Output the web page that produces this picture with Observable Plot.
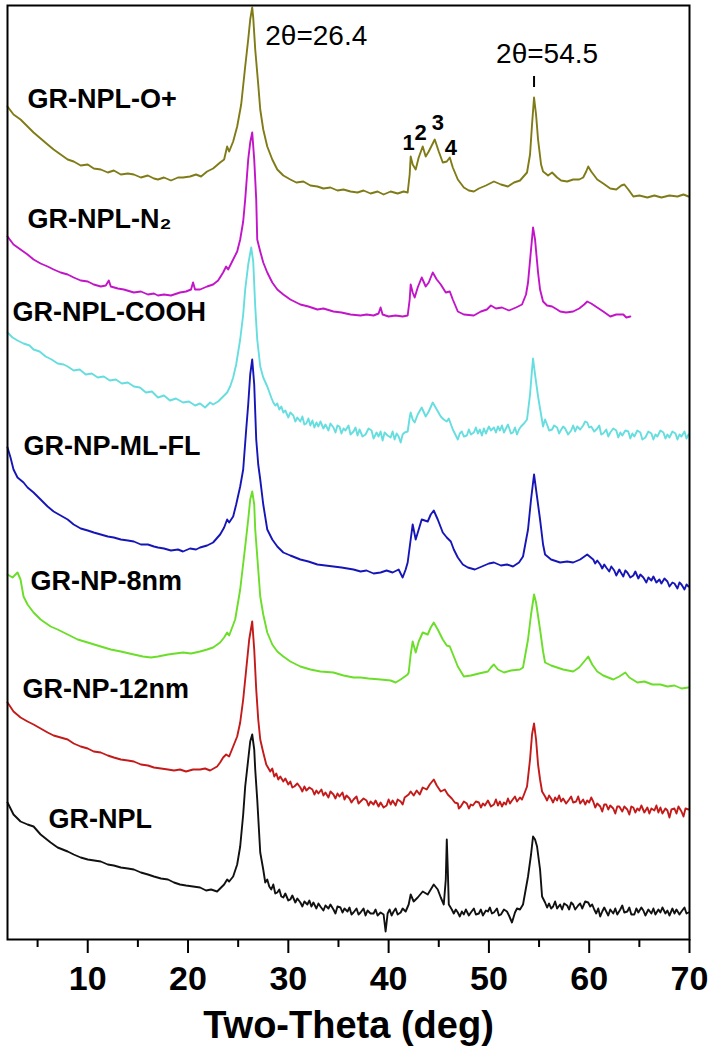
<!DOCTYPE html>
<html><head><meta charset="utf-8">
<script src="https://cdn.jsdelivr.net/npm/d3@7"></script>
<script src="https://cdn.jsdelivr.net/npm/@observablehq/plot@0.6"></script>
<style>
body{margin:0;background:#fff;}
#chart svg{font-family:"Liberation Sans",Arial,sans-serif;background:#fff;}
</style></head><body><div id="chart"></div>
<script>
// Samples, top to bottom
const samples = ["GR-NPL-O+","GR-NPL-N\u2082","GR-NPL-COOH","GR-NP-ML-FL","GR-NP-8nm","GR-NP-12nm","GR-NPL"];
const colors  = ["#7f7b16","#c214c8","#66dedf","#1616b8","#6ade28","#c41a1a","#111111"];

// [two-theta (deg), stacked intensity (a.u.)]
const sOplus = [[2.0,833],[2.6,825],[3.3,820],[4.0,813],[4.6,807],[5.3,801],[6.0,795],[6.6,790],[7.3,785],[8.0,780],[8.6,778],[9.3,774],[10.0,775],[10.6,771],[11.3,770],[12.0,767],[12.6,769],[13.3,765],[14.0,766],[14.6,765],[15.3,762],[16.0,764],[16.6,761],[17.0,760],[17.6,762],[18.3,759],[19.0,762],[19.5,762],[20.2,763],[20.8,765],[21.3,763],[21.9,768],[22.5,771],[23.2,777],[23.6,780],[23.9,793],[24.1,788],[24.5,798],[24.9,813],[25.3,835],[25.7,873],[26.0,900],[26.2,920],[26.4,932],[26.5,922],[26.7,890],[27.0,855],[27.2,830],[27.5,810],[27.9,793],[28.4,780],[28.9,770],[29.5,764],[30.2,760],[30.8,757],[31.5,758],[32.2,754],[32.9,753],[33.5,751],[34.2,752],[34.9,749],[35.5,750],[36.2,748],[36.9,747],[37.5,749],[38.2,746],[38.9,748],[39.5,745],[40.2,748],[40.9,746],[41.5,748],[41.9,747],[42.1,765],[42.2,783],[42.4,775],[42.7,770],[43.0,782],[43.4,793],[43.7,783],[44.0,788],[44.6,800],[45.0,788],[45.4,777],[45.8,778],[46.1,782],[46.4,772],[46.9,760],[47.5,752],[48.0,749],[48.5,748],[49.0,751],[49.7,754],[50.5,758],[51.2,755],[51.9,753],[52.5,757],[53.1,759],[53.8,767],[54.1,785],[54.3,815],[54.5,842],[54.7,825],[54.9,800],[55.2,775],[55.4,768],[55.9,764],[56.3,767],[56.8,762],[57.2,759],[57.8,758],[58.4,760],[59.0,760],[59.4,762],[59.7,768],[59.9,773],[60.2,768],[60.8,760],[61.4,756],[62.1,751],[62.7,750],[63.2,754],[63.5,755],[63.9,750],[64.4,743],[65.0,744],[65.8,742],[66.5,744],[67.2,742],[68.0,744],[68.8,743],[69.4,745],[69.9,743]];
const sN2 = [[2.0,703],[2.6,695],[3.3,690],[4.0,685],[4.6,680],[5.3,676],[6.0,673],[6.6,670],[7.3,667],[8.0,665],[8.6,662],[9.3,659],[10.0,658],[10.6,655],[11.3,653],[11.8,654],[12.1,659],[12.3,653],[13.0,651],[13.6,650],[14.6,647],[15.3,648],[16.0,645],[16.6,646],[17.0,644],[17.6,645],[18.3,644],[19.2,647],[19.8,648],[20.3,650],[20.5,657],[20.7,650],[21.2,650],[21.9,653],[22.5,655],[23.0,659],[23.5,667],[23.8,673],[24.0,670],[24.5,680],[24.9,688],[25.2,700],[25.5,718],[25.7,740],[26.0,780],[26.2,797],[26.4,807],[26.6,780],[26.8,740],[26.9,700],[27.2,688],[27.5,677],[27.9,667],[28.4,657],[28.9,650],[29.5,645],[30.2,640],[31.2,635],[32.0,633],[32.9,630],[33.5,631],[34.5,628],[35.3,627],[36.2,625],[37.2,624],[37.8,625],[38.5,624],[39.0,626],[39.2,632],[39.4,625],[40.0,623],[40.7,624],[41.4,623],[41.9,624],[42.1,640],[42.2,655],[42.4,647],[42.6,642],[42.9,652],[43.3,662],[43.7,653],[44.0,657],[44.4,667],[44.8,660],[45.2,655],[45.7,647],[46.1,648],[46.4,640],[46.9,628],[47.5,625],[48.5,624],[49.2,628],[49.8,630],[50.2,634],[50.7,631],[51.3,632],[52.0,629],[52.7,632],[53.3,635],[53.7,645],[53.9,657],[54.2,690],[54.4,712],[54.6,700],[54.9,667],[55.1,650],[55.4,638],[55.8,634],[56.3,633],[56.8,630],[57.1,628],[57.7,627],[58.4,628],[59.0,631],[59.5,635],[59.8,638],[60.2,636],[60.8,632],[61.4,628],[62.1,623],[62.7,625],[63.4,625],[63.7,622],[64.1,623]];
const sCOOH = [[2.0,607],[2.5,602],[3.0,599],[3.6,596],[4.2,594],[4.6,590],[5.2,588],[5.8,583],[6.4,580],[7.0,576],[7.6,575],[8.0,573],[8.6,569],[9.2,570],[9.8,565],[10.4,566],[11.0,562],[11.6,563],[12.2,559],[12.8,560],[13.4,556],[14.0,557],[14.6,553],[15.2,552],[15.8,547],[16.4,548],[17.0,542],[17.6,544],[18.2,539],[18.8,541],[19.5,537],[20.1,538],[20.7,534],[21.2,536],[21.7,532],[22.2,537],[22.5,535],[23.0,538],[23.5,543],[23.9,547],[24.2,553],[24.5,562],[24.8,575],[25.2,600],[25.5,625],[25.7,650],[26.0,675],[26.3,692],[26.5,678],[26.7,633],[26.9,600],[27.2,573],[27.5,562],[27.9,553],[28.3,542],[28.5,537],[28.7,534],[28.9,536],[29.1,530],[29.3,533],[29.5,527],[29.7,529],[30.0,522],[30.2,527],[30.5,524],[30.7,518],[30.9,522],[31.2,518],[31.4,523],[31.6,515],[31.8,516],[32.0,521],[32.2,514],[32.4,519],[32.6,512],[32.8,517],[33.0,513],[33.2,518],[33.5,511],[33.7,515],[34.0,509],[34.2,516],[34.5,512],[34.7,507],[34.9,514],[35.1,513],[35.3,506],[35.5,511],[35.7,509],[36.0,514],[36.2,505],[36.5,508],[36.7,512],[36.9,504],[37.1,510],[37.4,503],[37.7,505],[38.0,511],[38.3,509],[38.5,501],[38.8,507],[39.0,503],[39.2,508],[39.4,499],[39.6,507],[39.9,504],[40.2,502],[40.4,508],[40.6,500],[40.8,506],[41.0,503],[41.2,497],[41.4,505],[41.6,507],[41.9,508],[42.1,522],[42.2,527],[42.4,520],[42.6,517],[42.9,525],[43.3,532],[43.7,523],[44.0,528],[44.4,537],[44.8,530],[45.2,523],[45.5,520],[45.8,518],[46.0,521],[46.4,510],[46.9,500],[47.1,506],[47.3,508],[47.5,503],[47.8,504],[48.0,510],[48.2,505],[48.5,507],[48.7,512],[48.9,506],[49.1,510],[49.3,504],[49.5,511],[49.7,506],[50.0,513],[50.2,509],[50.5,512],[50.7,507],[50.9,513],[51.1,509],[51.3,514],[51.5,507],[51.7,511],[51.9,515],[52.2,506],[52.4,507],[52.6,512],[52.8,505],[53.0,510],[53.2,513],[53.5,516],[53.8,520],[54.1,545],[54.3,570],[54.4,581],[54.6,565],[54.9,543],[55.2,525],[55.4,513],[55.6,520],[55.8,515],[56.0,509],[56.3,510],[56.5,514],[56.8,512],[57.0,506],[57.1,508],[57.4,513],[57.6,511],[57.9,505],[58.2,509],[58.4,514],[58.6,508],[58.8,513],[59.1,510],[59.4,514],[59.6,518],[59.8,517],[60.0,512],[60.2,513],[60.5,508],[60.8,511],[61.0,514],[61.2,505],[61.4,506],[61.7,510],[61.9,503],[62.1,507],[62.4,511],[62.7,509],[62.9,502],[63.1,507],[63.3,504],[63.6,509],[63.9,508],[64.1,501],[64.3,506],[64.5,503],[64.8,509],[65.1,507],[65.3,500],[65.6,502],[65.9,508],[66.2,506],[66.4,500],[66.6,505],[66.8,503],[67.1,509],[67.4,507],[67.6,501],[67.8,505],[68.0,502],[68.3,508],[68.6,506],[68.8,500],[69.0,505],[69.2,503],[69.5,508],[69.7,501],[69.9,505]];
const sMLFL = [[2.0,492],[2.3,482],[2.6,470],[3.0,462],[3.6,457],[4.0,452],[4.6,447],[5.3,440],[6.0,433],[6.6,428],[7.3,424],[8.0,420],[8.6,415],[9.3,411],[10.0,409],[10.6,407],[11.3,405],[12.0,403],[12.6,402],[13.3,400],[14.0,399],[14.6,398],[15.3,395],[16.0,395],[16.6,393],[17.0,392],[17.6,391],[18.3,389],[19.0,390],[19.5,388],[20.2,391],[20.8,390],[21.2,392],[21.9,394],[22.5,397],[23.2,405],[23.6,412],[23.9,420],[24.1,417],[24.5,423],[24.8,435],[25.2,453],[25.5,470],[25.8,510],[26.0,535],[26.2,565],[26.4,580],[26.6,555],[26.8,500],[27.0,475],[27.2,460],[27.5,435],[27.9,410],[28.4,400],[28.9,393],[29.5,387],[30.2,384],[31.2,380],[32.0,378],[32.9,375],[33.7,374],[34.5,373],[35.3,372],[36.5,370],[37.2,368],[37.8,369],[38.5,366],[39.2,367],[39.8,369],[40.4,367],[41.0,370],[41.4,362],[41.7,370],[41.9,377],[42.2,400],[42.4,415],[42.7,400],[43.0,410],[43.3,420],[43.9,418],[44.2,425],[44.5,429],[44.9,420],[45.4,407],[45.8,402],[46.2,398],[46.5,390],[46.9,382],[47.4,375],[47.9,372],[48.6,370],[49.3,373],[50.0,376],[50.5,377],[51.2,374],[51.8,375],[52.4,373],[53.0,377],[53.4,383],[53.9,410],[54.2,440],[54.5,465],[54.7,450],[55.1,420],[55.4,395],[55.6,385],[56.2,380],[57.1,377],[57.8,378],[58.4,377],[59.1,380],[59.8,385],[60.4,380],[60.6,376],[60.8,379],[61.1,375],[61.3,371],[61.5,375],[61.7,372],[62.0,368],[62.2,373],[62.5,369],[62.7,364],[63.0,370],[63.1,368],[63.4,363],[63.6,369],[63.8,367],[64.1,362],[64.4,364],[64.6,368],[64.9,361],[65.1,365],[65.4,362],[65.7,357],[65.9,362],[66.2,359],[66.4,363],[66.7,357],[67.0,360],[67.2,356],[67.5,361],[67.8,358],[68.0,353],[68.3,357],[68.5,356],[68.8,351],[69.0,357],[69.2,355],[69.5,350],[69.7,355],[69.9,353]];
const s8nm = [[2.0,365],[2.5,362],[3.0,367],[3.3,360],[3.6,343],[4.0,335],[4.6,327],[5.3,320],[6.3,313],[7.0,310],[8.0,305],[9.0,300],[10.0,297],[11.3,293],[12.3,290],[13.3,288],[14.6,285],[15.5,283],[16.3,282],[17.0,283],[18.0,285],[19.5,287],[20.3,286],[21.2,288],[21.9,290],[22.5,292],[23.2,297],[23.6,302],[23.9,307],[24.1,304],[24.7,320],[25.2,350],[25.7,393],[26.0,420],[26.2,440],[26.4,448],[26.6,435],[26.7,410],[27.0,370],[27.2,343],[27.5,325],[27.9,307],[28.4,295],[28.9,288],[29.5,283],[30.2,278],[31.2,273],[32.2,270],[33.2,268],[34.5,267],[35.5,264],[36.5,262],[37.2,262],[38.0,261],[39.2,260],[40.2,259],[40.7,257],[41.2,260],[41.9,265],[42.0,267],[42.2,285],[42.4,298],[42.7,287],[43.0,298],[43.4,307],[43.9,305],[44.2,312],[44.5,317],[44.9,310],[45.4,300],[45.8,294],[46.1,293],[46.5,283],[46.9,273],[47.5,263],[48.2,264],[49.0,266],[49.9,268],[50.2,272],[50.5,275],[50.9,270],[51.5,267],[52.2,269],[53.1,270],[53.4,272],[53.9,300],[54.2,325],[54.5,345],[54.7,337],[55.1,310],[55.4,288],[55.6,277],[56.2,274],[56.8,272],[57.4,270],[58.4,268],[59.0,272],[59.5,278],[59.9,283],[60.3,275],[60.8,268],[61.4,264],[62.4,260],[63.0,263],[63.6,267],[64.0,262],[64.8,257],[65.5,258],[66.3,255],[67.1,255],[67.8,253],[68.5,254],[69.2,251],[69.9,252]];
const s12nm = [[2.0,237],[2.6,228],[3.3,222],[4.0,218],[4.6,215],[5.3,211],[6.0,207],[6.6,204],[7.3,202],[8.0,200],[8.6,196],[9.3,193],[10.0,191],[10.6,188],[11.3,187],[12.0,184],[12.6,182],[13.3,180],[14.0,179],[14.6,178],[15.3,175],[16.0,174],[16.6,172],[17.3,171],[18.0,170],[18.6,169],[19.2,170],[19.8,168],[20.5,170],[21.2,170],[21.7,171],[22.2,169],[22.9,173],[23.2,177],[23.5,182],[23.8,185],[24.1,183],[24.5,193],[24.9,203],[25.2,217],[25.5,240],[25.8,270],[26.1,300],[26.4,318],[26.6,290],[26.8,250],[27.0,220],[27.2,200],[27.5,187],[27.8,175],[28.2,168],[28.4,171],[28.6,163],[28.8,166],[29.0,160],[29.2,163],[29.5,158],[29.7,161],[30.0,155],[30.2,158],[30.4,152],[30.6,153],[30.9,156],[31.2,152],[31.4,148],[31.6,153],[31.8,149],[32.1,152],[32.4,150],[32.6,145],[32.8,149],[33.0,146],[33.3,150],[33.5,144],[33.7,147],[34.0,142],[34.2,148],[34.5,145],[34.7,141],[34.9,146],[35.1,143],[35.4,147],[35.6,140],[35.8,144],[36.1,141],[36.3,137],[36.5,140],[36.8,143],[37.0,136],[37.2,138],[37.5,141],[37.8,139],[38.0,134],[38.2,138],[38.5,135],[38.7,139],[39.0,133],[39.2,137],[39.5,132],[39.8,134],[40.0,140],[40.2,135],[40.4,139],[40.7,134],[40.9,140],[41.2,138],[41.4,135],[41.6,142],[42.0,145],[42.2,148],[42.5,144],[42.8,149],[43.1,145],[43.4,152],[43.8,150],[44.1,155],[44.5,160],[44.8,154],[45.2,148],[45.6,150],[45.9,145],[46.3,141],[46.6,137],[46.9,136],[47.0,131],[47.2,133],[47.5,138],[47.8,136],[48.0,131],[48.2,135],[48.4,134],[48.7,138],[49.0,137],[49.2,132],[49.4,136],[49.6,134],[49.9,139],[50.2,133],[50.5,135],[50.7,140],[50.9,134],[51.1,138],[51.3,133],[51.5,137],[51.7,135],[51.9,141],[52.1,136],[52.3,139],[52.6,143],[52.8,138],[53.1,142],[53.3,140],[53.5,145],[53.8,153],[54.1,180],[54.3,205],[54.5,216],[54.7,200],[54.9,175],[55.1,160],[55.3,148],[55.6,143],[55.8,139],[56.0,144],[56.2,141],[56.4,137],[56.6,142],[56.8,139],[57.0,144],[57.2,138],[57.4,141],[57.7,136],[58.0,140],[58.2,143],[58.4,137],[58.7,138],[58.9,143],[59.1,136],[59.4,140],[59.6,135],[59.8,139],[60.0,137],[60.2,142],[60.4,138],[60.6,132],[60.8,136],[61.1,133],[61.3,128],[61.5,135],[61.7,135],[61.9,130],[62.1,134],[62.4,131],[62.6,126],[62.8,133],[63.0,133],[63.3,128],[63.5,133],[63.8,130],[64.0,125],[64.2,133],[64.4,132],[64.6,127],[64.8,131],[65.0,129],[65.2,134],[65.5,127],[65.8,132],[66.0,126],[66.2,131],[66.5,129],[66.7,134],[66.9,127],[67.1,132],[67.3,126],[67.6,131],[67.8,129],[68.0,122],[68.2,130],[68.5,131],[68.7,126],[68.9,133],[69.2,128],[69.4,123],[69.6,131],[69.9,130]];
const sNPL = [[2.0,137],[2.6,125],[3.3,118],[4.0,115],[4.6,113],[5.3,105],[6.3,97],[7.0,92],[8.0,88],[8.6,85],[9.3,82],[10.0,80],[11.3,78],[12.0,75],[12.6,74],[13.3,72],[14.0,71],[14.6,70],[15.3,67],[16.0,65],[16.6,63],[17.3,61],[18.0,60],[18.6,57],[19.2,55],[19.8,54],[20.5,53],[21.2,52],[21.8,49],[22.3,50],[22.9,48],[23.3,52],[23.6,55],[23.9,60],[24.1,58],[24.5,63],[24.9,75],[25.2,93],[25.5,125],[25.7,153],[26.0,180],[26.2,198],[26.4,205],[26.6,190],[26.7,170],[26.9,140],[27.2,87],[27.5,70],[27.7,57],[27.9,60],[28.1,53],[28.3,50],[28.5,55],[28.7,46],[28.9,47],[29.1,50],[29.3,43],[29.5,42],[29.7,46],[30.0,39],[30.2,40],[30.4,44],[30.7,37],[30.9,41],[31.2,37],[31.4,33],[31.6,38],[31.9,35],[32.1,39],[32.3,33],[32.5,37],[32.8,31],[33.0,36],[33.2,33],[33.5,29],[33.7,34],[34.0,31],[34.2,35],[34.5,30],[34.7,26],[34.9,33],[35.2,32],[35.4,27],[35.6,31],[35.9,28],[36.1,32],[36.3,25],[36.5,27],[36.8,31],[37.0,25],[37.2,27],[37.5,31],[37.7,24],[37.9,29],[38.2,26],[38.5,26],[38.7,30],[38.9,24],[39.2,27],[39.5,25],[39.7,8],[39.9,26],[40.1,30],[40.3,24],[40.5,28],[40.7,31],[40.9,25],[41.2,27],[41.4,31],[41.7,28],[42.0,35],[42.2,45],[42.5,38],[42.9,42],[43.4,48],[43.9,45],[44.2,50],[44.5,55],[44.9,50],[45.2,42],[45.5,35],[45.7,60],[45.8,100],[45.9,70],[46.0,35],[46.3,30],[46.5,26],[46.7,30],[46.9,27],[47.1,23],[47.3,28],[47.5,25],[47.7,30],[48.0,24],[48.2,27],[48.5,31],[48.7,25],[49.0,26],[49.2,30],[49.4,24],[49.7,29],[49.9,28],[50.1,32],[50.3,26],[50.5,27],[50.8,31],[51.0,24],[51.2,25],[51.5,30],[51.8,28],[52.0,24],[52.3,17],[52.6,27],[52.8,31],[53.1,30],[53.4,35],[53.9,63],[54.2,85],[54.4,103],[54.6,100],[54.8,93],[55.1,70],[55.3,43],[55.6,37],[55.8,32],[56.0,36],[56.2,31],[56.4,33],[56.6,38],[56.8,31],[57.1,35],[57.3,30],[57.5,36],[57.8,34],[58.0,30],[58.2,37],[58.4,35],[58.6,30],[58.9,34],[59.1,36],[59.3,31],[59.6,38],[59.9,37],[60.1,33],[60.3,35],[60.5,30],[60.7,26],[60.9,31],[61.1,23],[61.3,28],[61.5,32],[61.7,28],[61.9,24],[62.1,30],[62.4,26],[62.6,31],[62.8,25],[63.1,30],[63.3,34],[63.5,27],[63.8,28],[64.0,32],[64.2,25],[64.5,25],[64.7,31],[64.9,27],[65.2,32],[65.4,29],[65.6,24],[65.9,30],[66.2,26],[66.4,31],[66.6,25],[66.9,30],[67.1,27],[67.3,32],[67.6,26],[67.8,29],[68.0,24],[68.3,31],[68.5,26],[68.7,30],[69.0,25],[69.2,28],[69.5,32],[69.7,26],[69.9,27]];

const seriesData = [sOplus, sN2, sCOOH, sMLFL, s8nm, s12nm, sNPL];

// Sample label anchor points [two-theta, intensity]
const labelPos = [[4.0,840],[4.0,720],[2.5,627],[3.6,493],[4.3,358],[3.5,250],[6.1,120]];

// Annotations
const majorTicks = [10,20,30,40,50,60,70];
const minorTicks = [5,15,25,35,45,55,65];
const peakNoteLeft = [{x:27.7,y:903,text:"2\u03b8=26.4"}];
const peakNoteRight = [{x:55.8,y:885,text:"2\u03b8=54.5"}];
const peakMark = [{x:54.5,y1:852,y2:863}];
const peakNumbers = [{x:42.0,y:797,t:"1"},{x:43.2,y:807,t:"2"},{x:44.9,y:817,t:"3"},{x:46.2,y:792,t:"4"}];
const xTitle = "Two-Theta (deg)";

const rows = [];
seriesData.forEach((s, i) => s.forEach(([x, y]) => rows.push({sample: samples[i], x, y})));
const labels = samples.map((s, i) => ({sample: s, x: labelPos[i][0], y: labelPos[i][1]}));

const chart = Plot.plot({
  width: 722,
  height: 1050,
  marginTop: 5,
  marginLeft: 7,
  marginRight: 33,
  marginBottom: 111,
  x: {domain: [2, 70], label: null},
  y: {domain: [0, 934], axis: null},
  color: {domain: samples, range: colors},
  marks: [
    Plot.line(rows, {x: "x", y: "y", z: "sample", stroke: "sample", strokeWidth: 1.9}),
    Plot.text(labels, {x: "x", y: "y", text: "sample", textAnchor: "start", fontSize: 27, fontWeight: "bold", fill: "#000"}),
    Plot.text(peakNoteLeft, {x: "x", y: "y", text: "text", textAnchor: "start", fontSize: 28, fill: "#000"}),
    Plot.text(peakNoteRight, {x: "x", y: "y", text: "text", textAnchor: "middle", fontSize: 28, fill: "#000"}),
    Plot.ruleX(peakMark, {x: "x", y1: "y1", y2: "y2", stroke: "#000", strokeWidth: 2}),
    Plot.text(peakNumbers, {x: "x", y: "y", text: "t", fontSize: 22, fontWeight: "bold", fill: "#000"}),
    Plot.axisX(majorTicks, {tickSize: 14, tickPadding: 12, fontSize: 34, fontWeight: "bold", strokeWidth: 2, label: null}),
    Plot.axisX(minorTicks, {tickSize: 8, tickFormat: () => "", strokeWidth: 2, label: null}),
    Plot.text([xTitle], {frameAnchor: "bottom", lineAnchor: "middle", dy: 86, fontSize: 38, fontWeight: "bold", fill: "#000"}),
    Plot.frame({stroke: "#000", strokeWidth: 2})
  ]
});
document.getElementById("chart").appendChild(chart);
</script></body></html>
